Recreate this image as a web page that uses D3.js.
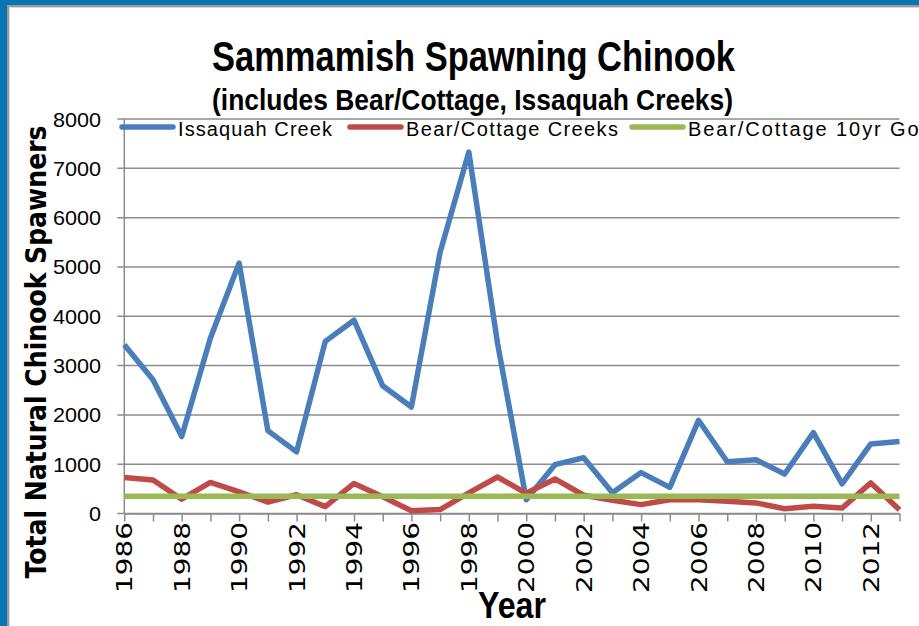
<!DOCTYPE html>
<html>
<head>
<meta charset="utf-8">
<script src="https://cdn.jsdelivr.net/npm/d3@7"></script>
<style>
  body { margin: 0; background: #fff; }
  svg { display: block; }
</style>
</head>
<body>
<svg width="919" height="626"></svg>
<script>
// data
var years = d3.range(1986, 2014);
var issaquah = [3420, 2710, 1560, 3560, 5080, 1680, 1250, 3490, 3920, 2590,
                2160, 5300, 7330, 3450, 280, 990, 1130, 420, 830, 530,
                1890, 1050, 1090, 800, 1640, 600, 1410, 1460];
var bearCottage = [730, 680, 290, 630, 440, 230, 380, 140, 610, 340,
                   55, 80, 420, 740, 410, 700, 370, 270, 180, 280,
                   280, 250, 215, 95, 145, 110, 620, 75];
var goal = years.map(function() { return 350; });
var yTicks = [0, 1000, 2000, 3000, 4000, 5000, 6000, 7000, 8000];
var xLabels = years.filter(function(y) { return (y - 1986) % 2 === 0 && y < 2013; });

var series = [
  { name: "Issaquah Creek", values: issaquah, color: "#4a7ebb", legX: 122, legLen: 154 },
  { name: "Bear/Cottage Creeks", values: bearCottage, color: "#be4b48", legX: 350, legLen: 212 },
  { name: "Bear/Cottage 10yr Goal", values: goal, color: "#98b954", legX: 632, legLen: 250 }
];

var svg = d3.select("svg");

// slide frame
svg.append("rect").attr("x", 0).attr("y", 0).attr("width", 919).attr("height", 626).attr("fill", "#fff");
svg.append("rect").attr("x", 7).attr("y", 5).attr("width", 912).attr("height", 2).attr("fill", "#9a9a9a");
svg.append("rect").attr("x", 7).attr("y", 5).attr("width", 2).attr("height", 621).attr("fill", "#9a9a9a");
svg.append("rect").attr("x", 9).attr("y", 7).attr("width", 910).attr("height", 1).attr("fill", "#d8d8d8");
svg.append("rect").attr("x", 9).attr("y", 7).attr("width", 1).attr("height", 619).attr("fill", "#d8d8d8");
svg.append("rect").attr("x", 0).attr("y", 0).attr("width", 919).attr("height", 5).attr("fill", "#0b74b4");
svg.append("rect").attr("x", 0).attr("y", 0).attr("width", 7).attr("height", 626).attr("fill", "#0b74b4");

var plotLeft = 124.3, plotRight = 899.5, plotTop = 119, plotBottom = 513.5;

var x = d3.scalePoint().domain(years).range([plotLeft, plotRight]);
var y = d3.scaleLinear().domain([0, 8000]).range([plotBottom, plotTop]);

// gridlines
svg.append("g")
  .selectAll("line")
  .data(yTicks)
  .enter().append("line")
    .attr("x1", plotLeft - 7)
    .attr("x2", plotRight)
    .attr("y1", function(d) { return y(d); })
    .attr("y2", function(d) { return y(d); })
    .attr("stroke", "#8c8c8c")
    .attr("stroke-width", 1.5);

// y axis line
svg.append("line")
  .attr("x1", plotLeft).attr("x2", plotLeft)
  .attr("y1", plotTop).attr("y2", plotBottom)
  .attr("stroke", "#8c8c8c").attr("stroke-width", 1.5);

// x axis with a tick per year
var xAxis = svg.append("g")
  .attr("transform", "translate(0," + plotBottom + ")")
  .call(d3.axisBottom(x).tickSize(8).tickSizeOuter(0).tickFormat(""));
xAxis.select(".domain").attr("stroke", "#8c8c8c").attr("stroke-width", 1.5);
xAxis.selectAll(".tick line").attr("stroke", "#8c8c8c").attr("stroke-width", 1.5);

// y tick labels
svg.append("g")
  .selectAll("text")
  .data(yTicks)
  .enter().append("text")
    .attr("x", 101)
    .attr("y", function(d) { return y(d) + 7.5; })
    .attr("text-anchor", "end")
    .attr("textLength", function(d) { return d === 0 ? 12 : 48; })
    .attr("lengthAdjust", "spacingAndGlyphs")
    .style("font-family", "Liberation Sans, Arial")
    .style("font-size", "21px")
    .style("fill", "#000")
    .text(function(d) { return d; });

// x tick labels, rotated
svg.append("g")
  .selectAll("text")
  .data(xLabels)
  .enter().append("text")
    .attr("transform", function(d) { return "translate(" + (x(d) + 8) + ",522) rotate(-90)"; })
    .attr("text-anchor", "end")
    .attr("textLength", 71)
    .attr("lengthAdjust", "spacingAndGlyphs")
    .style("font-family", "DejaVu Sans, Verdana")
    .style("font-size", "22px")
    .style("fill", "#000")
    .text(function(d) { return d; });

// series lines
var line = d3.line()
  .x(function(d, i) { return x(years[i]); })
  .y(function(d) { return y(d); });

svg.append("g")
  .selectAll("path")
  .data(series)
  .enter().append("path")
    .attr("d", function(s) { return line(s.values); })
    .attr("fill", "none")
    .attr("stroke", function(s) { return s.color; })
    .attr("stroke-width", 5.5)
    .attr("stroke-linejoin", "round");

// legend
var leg = svg.append("g").selectAll("g").data(series).enter().append("g");
leg.append("line")
  .attr("x1", function(s) { return s.legX; })
  .attr("x2", function(s) { return s.legX + 51; })
  .attr("y1", 127).attr("y2", 127)
  .attr("stroke", function(s) { return s.color; })
  .attr("stroke-width", 5.5)
  .attr("stroke-linecap", "round");
leg.append("text")
  .attr("x", function(s) { return s.legX + 56; })
  .attr("y", 136)
  .attr("textLength", function(s) { return s.legLen; })
  .attr("lengthAdjust", "spacing")
  .style("font-family", "Liberation Sans, Arial")
  .style("font-size", "20px")
  .style("fill", "#000")
  .text(function(s) { return s.name; });

// titles
svg.append("text")
  .attr("x", 212).attr("y", 71)
  .attr("textLength", 523)
  .attr("lengthAdjust", "spacingAndGlyphs")
  .style("font-family", "Liberation Sans Narrow, Arial Narrow, sans-serif")
  .style("font-weight", "bold")
  .style("font-size", "42px")
  .text("Sammamish  Spawning  Chinook");

svg.append("text")
  .attr("x", 212).attr("y", 110)
  .attr("textLength", 521)
  .attr("lengthAdjust", "spacingAndGlyphs")
  .style("font-family", "Liberation Sans Narrow, Arial Narrow, sans-serif")
  .style("font-weight", "bold")
  .style("font-size", "29px")
  .text("(includes Bear/Cottage, Issaquah Creeks)");

svg.append("text")
  .attr("transform", "translate(46,352) rotate(-90)")
  .attr("text-anchor", "middle")
  .attr("textLength", 453)
  .attr("lengthAdjust", "spacingAndGlyphs")
  .style("font-family", "DejaVu Sans, Verdana")
  .style("font-weight", "bold")
  .style("font-size", "28px")
  .text("Total Natural Chinook Spawners");

svg.append("text")
  .attr("x", 512).attr("y", 618)
  .attr("text-anchor", "middle")
  .attr("textLength", 68)
  .attr("lengthAdjust", "spacingAndGlyphs")
  .style("font-family", "Liberation Sans Narrow, Arial Narrow, sans-serif")
  .style("font-weight", "bold")
  .style("font-size", "36px")
  .text("Year");
</script>
</body>
</html>
